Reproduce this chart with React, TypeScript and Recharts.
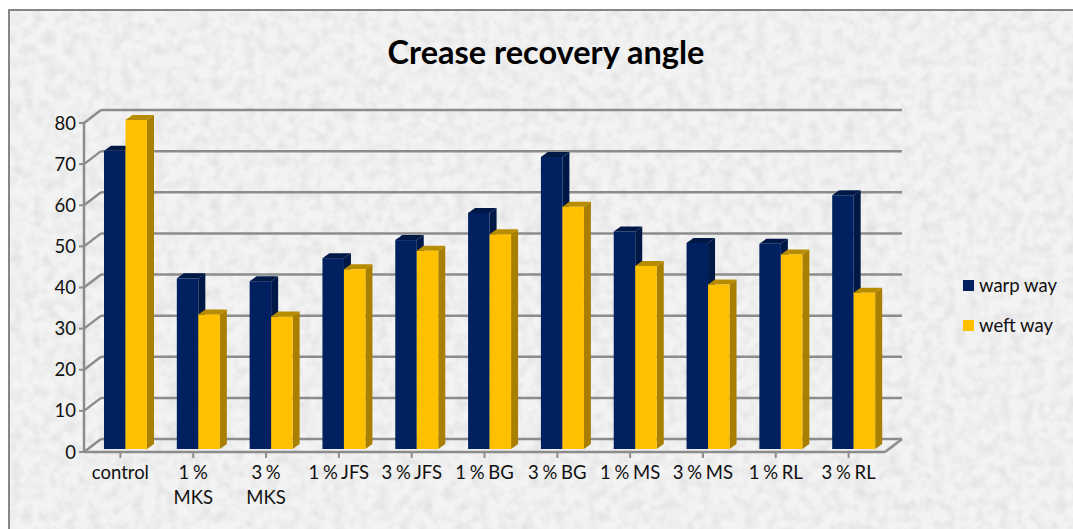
import { Bar, BarChart, CartesianGrid, Legend, XAxis, YAxis } from "recharts";

const categories = ["control", "1 %\nMKS", "3 %\nMKS", "1 % JFS", "3 % JFS", "1 % BG", "3 % BG", "1 % MS", "3 % MS", "1 % RL", "3 % RL"];
const warpWay = [72.5, 41.5, 40.8, 46.4, 50.8, 57.4, 71, 52.9, 50.1, 49.9, 61.7];
const weftWay = [80, 32.7, 32.2, 43.7, 48.2, 52.2, 58.9, 44.5, 40, 47.3, 38];
const yTicks = [0, 10, 20, 30, 40, 50, 60, 70, 80];

const chartData = categories.map((name, i) => ({ name, warp: warpWay[i], weft: weftWay[i] }));

const FONT = "Lato, 'Open Sans', sans-serif";
const GRID = "#8c8c8c";
const DEPTH_X = 17;
const DEPTH_Y = 13;

// fake 3D column: front face, side and top
function Column(props: any) {
  const { x, y, width, height, fill, side, top } = props;
  const dx = 7;
  const dy = 5;
  const fx = x + 5;
  const fy = y - 3;
  const r = fx + width;
  const b = fy + height;
  return (
    <g>
      <polygon points={`${r},${fy} ${r + dx},${fy - dy} ${r + dx},${b - dy} ${r},${b}`} fill={side} />
      <polygon points={`${fx},${fy} ${fx + dx},${fy - dy} ${r + dx},${fy - dy} ${r},${fy}`} fill={top} />
      <rect x={fx} y={fy} width={width} height={height} fill={fill} />
    </g>
  );
}

function WallLine(props: any) {
  const { x1, x2, y1 } = props;
  return (
    <g stroke={GRID} strokeWidth={2.5} fill="none">
      <line x1={x1} y1={y1} x2={x1 + DEPTH_X} y2={y1 - DEPTH_Y} />
      <line x1={x1 + DEPTH_X} y1={y1 - DEPTH_Y} x2={x2 + DEPTH_X} y2={y1 - DEPTH_Y} />
      {y1 > 440 ? <line x1={x2} y1={y1} x2={x2 + DEPTH_X} y2={y1 - DEPTH_Y} /> : null}
    </g>
  );
}

function CategoryTick(props: any) {
  const { x, y, payload } = props;
  const lines = String(payload.value).split("\n");
  return (
    <text x={x} y={y + 19} textAnchor="middle" fontFamily={FONT} fontSize={18.5} wordSpacing={-1} fill="#111">
      {lines.map((l, i) => (
        <tspan key={i} x={x} dy={i === 0 ? 0 : 25}>
          {l}
        </tspan>
      ))}
    </text>
  );
}

function LegendBox() {
  const rows = [
    { label: "warp way", color: "#002060" },
    { label: "weft way", color: "#ffc000" },
  ];
  return (
    <div style={{ fontFamily: FONT, fontSize: 18.5, color: "#111" }}>
      {rows.map((r) => (
        <div key={r.label} style={{ display: "flex", alignItems: "center", height: 40 }}>
          <span style={{ width: 11, height: 11, background: r.color, marginRight: 5, display: "inline-block" }} />
          {r.label}
        </div>
      ))}
    </div>
  );
}

export default function App() {
  return (
    <div style={{ position: "relative", width: 1073, height: 529, overflow: "hidden", background: "#fff" }}>
      <style>{"body{margin:0}"}</style>
      <svg width={1073} height={529} style={{ position: "absolute", left: 0, top: 0 }}>
        <filter id="paper" x="0" y="0" width="100%" height="100%">
          <feTurbulence type="fractalNoise" baseFrequency="0.09" numOctaves={2} seed={4} />
          <feColorMatrix type="matrix" values="0 0 0 0 0.55  0 0 0 0 0.55  0 0 0 0 0.55  1.8 0 0 0 -0.68" />
        </filter>
        <rect x={9} y={10} width={1064} height={519} fill="#f3f3f3" />
        <rect x={9} y={10} width={1064} height={519} filter="url(#paper)" opacity={0.38} />
        <path d="M9 529V10H1073" fill="none" stroke="#868686" strokeWidth={2} />
      </svg>
      <div style={{ position: "absolute", left: 0, top: 0 }}>
        <BarChart width={1073} height={529} data={chartData} barSize={21.5} barGap={0} margin={{ top: 123, right: 78, bottom: 0, left: 0 }}>
          <text x={546} y={64} textAnchor="middle" fontFamily={FONT} fontSize={32.5} fontWeight={700} fill="#000">
            Crease recovery angle
          </text>
          <CartesianGrid vertical={false} horizontal={(p: any) => <WallLine key={p.y1} {...p} />} />
          <XAxis dataKey="name" height={77} interval={0} tick={<CategoryTick />} tickLine={{ stroke: GRID, strokeWidth: 2 }} axisLine={{ stroke: GRID, strokeWidth: 2.5 }} tickSize={6} />
          <YAxis width={84} domain={[0, 80]} ticks={yTicks} interval={0} tick={{ fontFamily: FONT, fontSize: 18.5, fill: "#111" }} tickLine={{ stroke: GRID, strokeWidth: 2 }} axisLine={{ stroke: GRID, strokeWidth: 2.5 }} tickSize={5} tickMargin={3} />
          <Legend layout="vertical" align="right" verticalAlign="middle" content={<LegendBox />} wrapperStyle={{ width: 110, left: 963, top: 265 }} />
          <Bar dataKey="warp" name="warp way" fill="#002060" isAnimationActive={false} shape={<Column side="#001846" top="#001846" />} />
          <Bar dataKey="weft" name="weft way" fill="#ffc000" isAnimationActive={false} shape={<Column side="#a87f00" top="#b88c00" />} />
        </BarChart>
      </div>
    </div>
  );
}
